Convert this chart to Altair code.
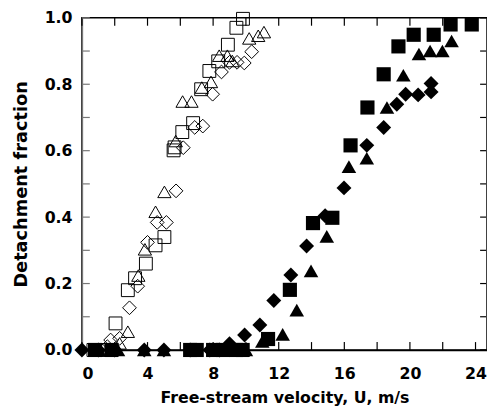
import altair as alt
import pandas as pd

# ---- data ----
open_sq_u = [0.7, 1.3, 2.05, 2.8, 3.24, 3.9, 4.49, 5.03, 5.59, 5.65, 6.12, 6.78, 7.27, 7.77, 8.31, 8.9, 9.42, 9.82]
open_sq_f = [0.0, 0.0, 0.08, 0.18, 0.216, 0.26, 0.315, 0.34, 0.601, 0.61, 0.656, 0.683, 0.785, 0.84, 0.869, 0.919, 0.97, 0.997]

open_tri_u = [1.0, 1.6, 2.3, 2.8, 3.44, 3.84, 4.49, 5.03, 5.72, 6.14, 6.68, 7.31, 7.87, 8.37, 8.87, 9.17, 10.2, 10.75, 11.1]
open_tri_f = [0.0, 0.0, 0.02, 0.055, 0.224, 0.303, 0.416, 0.476, 0.629, 0.748, 0.748, 0.79, 0.807, 0.886, 0.886, 0.87, 0.938, 0.946, 0.957]

open_dia_u = [1.2, 1.55, 1.75, 2.3, 2.9, 3.4, 4.0, 4.59, 5.15, 5.74, 6.18, 6.88, 7.37, 7.97, 8.51, 9.0, 9.46, 9.9, 10.35]
open_dia_f = [0.0, 0.01, 0.03, 0.035, 0.127, 0.192, 0.324, 0.384, 0.384, 0.479, 0.609, 0.67, 0.674, 0.77, 0.837, 0.866, 0.866, 0.864, 0.898]

fill_sq_u = [0.8, 1.8, 6.6, 7.0, 8.0, 8.6, 9.4, 9.8, 11.35, 12.68, 14.09, 15.27, 16.38, 17.41, 18.4, 19.3, 20.23, 21.45, 22.48, 23.77]
fill_sq_f = [0, 0, 0, 0, 0, 0, 0, 0, 0.033, 0.181, 0.382, 0.398, 0.616, 0.73, 0.83, 0.914, 0.949, 0.949, 0.98, 0.98]

fill_tri_u = [1.0, 2.2, 3.8, 5.0, 6.8, 8.0, 9.2, 10.0, 11.0, 12.24, 13.1, 13.97, 14.93, 16.28, 17.37, 18.6, 19.6, 20.55, 21.23, 21.98, 22.54]
fill_tri_f = [0, 0, 0, 0, 0, 0, 0, 0, 0.026, 0.047, 0.12, 0.238, 0.342, 0.552, 0.577, 0.73, 0.827, 0.891, 0.9, 0.9, 0.93]

fill_dia_u = [0.0, 1.0, 2.0, 3.8, 5.0, 6.6, 7.8, 8.4, 9.0, 9.92, 10.85, 11.7, 12.74, 13.7, 14.83, 15.98, 17.37, 18.4, 19.2, 19.74, 20.5, 21.29, 21.29]
fill_dia_f = [0, 0, 0, 0, 0, 0, 0, 0, 0.019, 0.045, 0.075, 0.149, 0.226, 0.313, 0.404, 0.488, 0.616, 0.67, 0.74, 0.77, 0.768, 0.777, 0.802]

x_tick_labels = [0, 4, 8, 12, 16, 20, 24]
x_minor_ticks = [0, 2, 4, 6, 8, 10, 12, 14, 16, 18, 20, 22, 24]
y_tick_labels = [0.0, 0.2, 0.4, 0.6, 0.8, 1.0]
y_minor_ticks = [0.0, 0.1, 0.2, 0.3, 0.4, 0.5, 0.6, 0.7, 0.8, 0.9, 1.0]

series_names = ["open square", "open triangle", "open diamond",
                "filled square", "filled triangle", "filled diamond"]
series_shapes = ["square", "triangle-up", "diamond", "square", "triangle-up", "diamond"]
series_sizes = [170, 230, 210, 175, 250, 250]

rows = []
for name, us, fs in [
    ("open square", open_sq_u, open_sq_f),
    ("open triangle", open_tri_u, open_tri_f),
    ("open diamond", open_dia_u, open_dia_f),
    ("filled square", fill_sq_u, fill_sq_f),
    ("filled triangle", fill_tri_u, fill_tri_f),
    ("filled diamond", fill_dia_u, fill_dia_f),
]:
    for u, f in zip(us, fs):
        rows.append({"series": name, "u": u, "f": f, "open": name.startswith("open")})
df = pd.DataFrame(rows)

W, H = 411, 337
FONT = "DejaVu Sans"

xscale = alt.Scale(domain=[0, 24.7], nice=False, zero=False)
yscale = alt.Scale(domain=[0, 1.0], nice=False, zero=False)

x_enc = alt.X("u:Q", scale=xscale,
              axis=alt.Axis(title="Free-stream velocity, U, m/s", values=x_tick_labels,
                            ticks=False, grid=False, labelPadding=16, titlePadding=8,
                            titleFontSize=16,
                            domainColor="black", domainWidth=1.5))
y_enc = alt.Y("f:Q", scale=yscale,
              axis=alt.Axis(title="Detachment fraction", values=y_tick_labels, format=".1f",
                            ticks=False, grid=False, labelPadding=10, titlePadding=14,
                            titleFontSize=18,
                            domainColor="#777777", domainWidth=1.5))

shape_enc = alt.Shape("series:N", scale=alt.Scale(domain=series_names, range=series_shapes), legend=None)
size_enc = alt.Size("series:N", scale=alt.Scale(domain=series_names, range=series_sizes), legend=None)

open_pts = alt.Chart(df).transform_filter("datum.open").mark_point(
    filled=False, stroke="black", strokeWidth=1, opacity=1
).encode(x=x_enc, y=y_enc, shape=shape_enc, size=size_enc)

fill_pts = alt.Chart(df).transform_filter("!datum.open").mark_point(
    filled=True, fill="black", opacity=1, strokeWidth=0
).encode(x="u:Q", y="f:Q", shape=shape_enc, size=size_enc)

xt = pd.DataFrame({"t": x_minor_ticks})
yt = pd.DataFrame({"t": y_minor_ticks})

bottom_ticks = alt.Chart(xt).mark_rule(color="black", strokeWidth=1.2).encode(
    x=alt.X("t:Q", scale=xscale), y=alt.value(H), y2=alt.value(H - 8))
top_ticks = alt.Chart(xt).mark_rule(color="black", strokeWidth=1.2).encode(
    x=alt.X("t:Q", scale=xscale), y=alt.value(0), y2=alt.value(8))
left_ticks = alt.Chart(yt).mark_rule(color="#777777", strokeWidth=1.2).encode(
    y=alt.Y("t:Q", scale=yscale), x=alt.value(0), x2=alt.value(8))
right_ticks = alt.Chart(yt).mark_rule(color="black", strokeWidth=1.2).encode(
    y=alt.Y("t:Q", scale=yscale), x=alt.value(W - 1), x2=alt.value(W - 7))

chart = alt.layer(
    bottom_ticks, top_ticks, left_ticks, right_ticks, open_pts, fill_pts
).properties(
    width=W, height=H,
    autosize=alt.AutoSizeParams(type="none"),
    padding={"left": 75, "top": 7, "right": 0, "bottom": 62},
).configure_view(
    stroke="black", strokeWidth=1.5
).configure_axis(
    labelFont=FONT, labelFontSize=16, labelFontWeight="bold", labelColor="black",
    titleFont=FONT, titleFontWeight="bold", titleColor="black",
)

chart.save("out.html", embed_options={"renderer": "svg", "actions": False})
